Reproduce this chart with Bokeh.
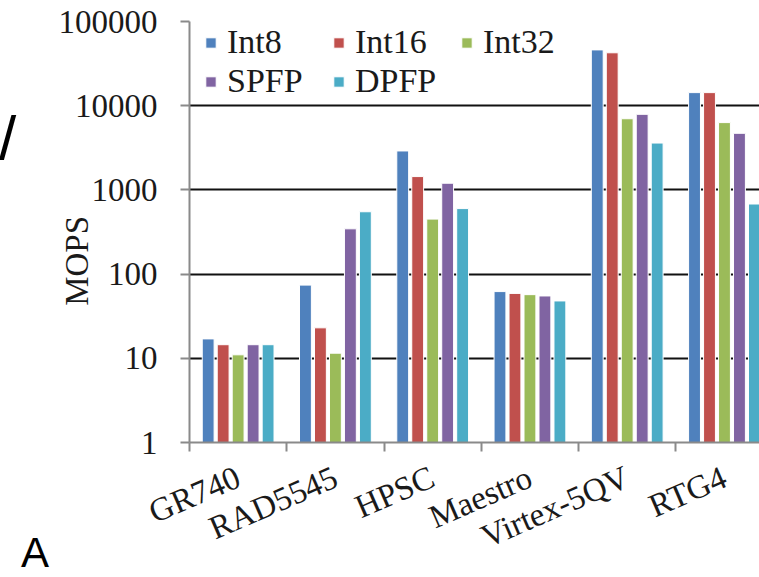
import numpy as np
from bokeh.plotting import figure
from bokeh.layouts import row
from bokeh.models import (ColumnDataSource, Range1d, FixedTicker, CustomJSTickFormatter,
                          PrintfTickFormatter, Legend, LegendItem, Div)
from bokeh.core.properties import value
from bokeh.core.property.dataspec import DataSpec
from bokeh.transform import dodge
from bokeh.embed import file_html
from bokeh.resources import INLINE

categories = ["GR740", "RAD5545", "HPSC", "Maestro", "Virtex-5QV", "RTG4"]
series = ["Int8", "Int16", "Int32", "SPFP", "DPFP"]
int8 = [17, 74, 2900, 62, 46000, 14300]
int16 = [14.5, 23, 1440, 59, 42500, 14300]
int32 = [11, 11.5, 450, 57, 7000, 6300]
spfp = [14.5, 345, 1200, 55, 7900, 4700]
dpfp = [14.5, 550, 600, 48, 3600, 680]
colors = ["#4F81BD", "#C0504D", "#9BBB59", "#8064A2", "#4BACC6"]
y_ticks = [1, 10, 100, 1000, 10000, 100000]

FONT = "Liberation Serif"
TXT = "#1a1a1a"
GREY = "#8a8a8a"


def font_arg(model_cls, prop, font):
    # pass the font as a fixed value when the property is a data spec
    p_obj = model_cls.lookup(prop).property
    return value(font) if isinstance(p_obj, DataSpec) else font


src = ColumnDataSource(dict(
    x=np.arange(len(categories)) + 0.5,
    Int8=int8, Int16=int16, Int32=int32, SPFP=spfp, DPFP=dpfp,
))

p = figure(width=704, height=577, output_backend="svg", toolbar_location=None,
           y_axis_type="log", x_range=Range1d(0, 5.86), y_range=Range1d(1, 100000),
           min_border_left=132, min_border_right=0, min_border_top=21, min_border_bottom=135)
p.outline_line_color = None
p.background_fill_color = "white"
p.border_fill_color = "white"
p.margin = (0, 0, 0, 0)

step = 0.154
items = []
for i, (name, col) in enumerate(zip(series, colors)):
    r = p.vbar(x=dodge("x", (i - 2) * step, range=p.x_range), top=name, bottom=1, width=0.122,
               source=src, fill_color=col, line_color="white", line_width=1)
    items.append(LegendItem(label=name, renderers=[r]))

# axes
xa = p.xaxis[0]
xa.ticker = FixedTicker(ticks=list(np.arange(len(categories)) + 0.5),
                        minor_ticks=list(range(len(categories) + 1)))
xa.formatter = CustomJSTickFormatter(args=dict(labels=categories),
                                     code="return labels[Math.round(tick - 0.5)] || '';")
xa.major_label_orientation = 0.41
xa.major_tick_out = 0
xa.major_tick_in = 0
xa.minor_tick_out = 9
xa.minor_tick_in = 0
xa.minor_tick_line_color = GREY
xa.minor_tick_line_width = 2
xa.axis_line_color = GREY
xa.axis_line_width = 2
xa.major_label_text_font = FONT
xa.major_label_text_font_size = "33px"
xa.major_label_text_color = TXT
xa.major_label_standoff = 24

ya = p.yaxis[0]
ya.ticker = FixedTicker(ticks=y_ticks, minor_ticks=[])
ya.formatter = PrintfTickFormatter(format="%d")
ya.major_tick_out = 9
ya.major_tick_in = 0
ya.minor_tick_out = 0
ya.minor_tick_in = 0
ya.major_tick_line_color = GREY
ya.major_tick_line_width = 2
ya.axis_line_color = GREY
ya.axis_line_width = 2
ya.major_label_text_font = FONT
ya.major_label_text_font_size = "33px"
ya.major_label_text_color = TXT
ya.major_label_standoff = 23
# trailing no-break spaces shift the centred title down along the axis, as in the reference
ya.axis_label = "MOPS" + "\u00a0" * 7
ya.axis_label_text_font = FONT
ya.axis_label_text_font_size = "33px"
ya.axis_label_text_font_style = "normal"
ya.axis_label_text_color = TXT
ya.axis_label_standoff = -39

p.xgrid.grid_line_color = None
p.ygrid.ticker = FixedTicker(ticks=y_ticks[1:])
p.ygrid.grid_line_color = "#111111"
p.ygrid.grid_line_width = 2

legend = Legend(items=items, location=(15, 342), orientation="horizontal", ncols=3,
                padding=0, margin=0, spacing=1, glyph_width=13, glyph_height=13,
                label_standoff=10, label_width=104,
                label_text_font=font_arg(Legend, "label_text_font", FONT),
                label_text_font_size="34px", label_text_color=TXT,
                background_fill_alpha=0, border_line_alpha=0)
p.add_layout(legend)

side = Div(width=55, height=577, margin=(0, 0, 0, 0), text=(
    '<div style="position:relative;width:55px;height:577px;overflow:hidden;">'
    '<span style="position:absolute;left:-1px;top:107px;font-family:\'Liberation Sans\';'
    'font-size:62px;line-height:62px;color:#000;">/</span>'
    '<span style="position:absolute;left:21px;top:538px;font-family:\'Liberation Sans\';'
    'font-size:42px;line-height:30px;color:#000;">A</span>'
    '</div>'))

layout = row(side, p, spacing=0)
open("out.html", "w").write(file_html(layout, INLINE))
